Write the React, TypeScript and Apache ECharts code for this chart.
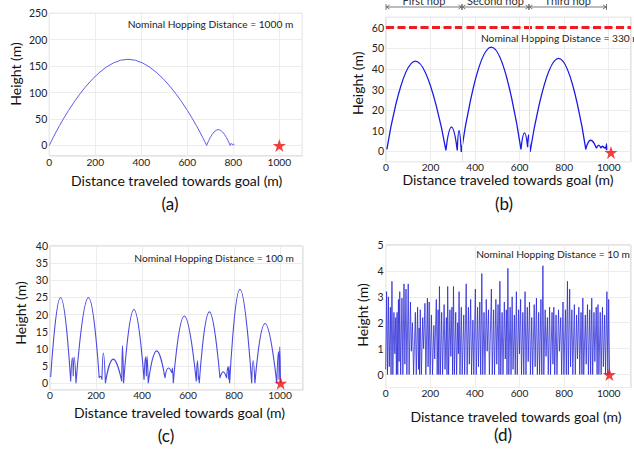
import React, { useEffect, useRef } from 'react';
import * as echarts from 'echarts';

const FONT = 'Lato, "Open Sans", sans-serif';

// ---------- data (metres) ----------
const X_MAX_LABEL = 1000;
const Y_RANGES = [[-20, 250], [-5, 65], [-2, 40], [-0.5, 5]];
const Y_STEPS = [50, 10, 5, 1];
const Y_SPLITS = [5, 7, 8, 5];

// hops: [x0, y0, xPeak, yPeak, x1, y1]
const A_HOPS = [
  [0, 0, 342, 163, 684, 0],
  [684, 0, 735, 30, 786, 0],
  [786, 0, 791, 4, 796, 0.5],
  [796, 0.5, 800, 3, 805, 0.5],
];
const B_HOPS = [
  [4, 1, 132, 43.8, 269, 0.5],
  [269, 0.5, 294, 11.8, 320, 0.5],
  [320, 0.5, 328, 10, 338, -0.3],
  [338, -0.3, 473, 50.5, 606, 1],
  [606, 1, 622, 9, 636, 2],
  [636, 2, 640, 8, 647, -0.3],
  [647, -0.3, 775, 45.1, 897, 1],
  [897, 1, 919, 5.4, 945, 1.5],
  [945, 1.5, 955, 3, 965, 1.5],
  [965, 1.5, 972, 2.5, 980, 1.5],
  [980, 1.5, 985, 2, 988, 1],
  [988, 1, 990, 3.7, 991, 0.5],
];
const C_HOPS = [
  [3, 1.8, 46, 25, 90, 0.5],
  [90, 0.5, 97, 7.4, 101, 2],
  [101, 2, 105, 7.6, 113, 0],
  [113, 0, 167, 25, 214, 1.5],
  [214, 1.5, 220, 2, 226, 1],
  [226, 1, 232, 8.8, 241, 0],
  [241, 0, 275, 7, 312, 0.5],
  [312, 0.5, 315, 11, 320, 0],
  [320, 0, 365, 21.5, 409, 1],
  [409, 1, 415, 7.6, 419, 2],
  [419, 2, 422, 7.8, 427, 0],
  [427, 0, 464, 9.4, 500, 1.5],
  [500, 1.5, 515, 4.4, 530, 3],
  [530, 3, 532, 4.4, 536, 0],
  [536, 0, 584, 19.6, 636, 0.5],
  [636, 0.5, 641, 6.5, 645, 1],
  [645, 1, 646, 2, 649, 0],
  [649, 0, 693, 20.8, 739, 1.5],
  [739, 1.5, 753, 3.3, 768, 1.5],
  [768, 1.5, 773, 4.7, 777, 1],
  [777, 1, 778, 5, 781, 0],
  [781, 0, 826, 27.4, 877, 0],
  [877, 0, 883, 6.5, 891, 0],
  [891, 0, 935, 17.4, 986, 0],
  [986, 0, 993, 9.2, 996, 1],
  [996, 1, 999, 10.6, 1002, 0],
];
// panel (d) vertices [x, height]
const D_PATH = [
  [0,0.2],[4,3.2],[8,0],[12,3.0],[16,0.3],[21,2.6],[24,0],[28,3.6],[32,0],[37,2.4],[41,0.8],[45,2.2],[48,0],[51,2.4],[54,0],[57,2.9],[60,0.5],[63,3.2],[67,0],[73,2.95],[77,0],[82,3.5],[86,0.4],[91,3.3],[95,0],[101,3.5],[105,0],[111,2.8],[115,0.9],[120,2.0],[125,0],[133,2.4],[137,0],[143,2.6],[147,0.2],[150,1.8],[152,0],[155,2.5],[160,0],[166,2.2],[170,1.0],[176,2.75],[180,0],[187,2.95],[190,0.3],[195,2.8],[199,0],[205,2.3],[210,0],[216,1.9],[220,0.6],[227,2.9],[231,0],[235,2.5],[238,0],[241,3.4],[245,0],[251,2.4],[255,0],[262,2.7],[266,0.2],[272,2.2],[275,0],[278,3.4],[282,0],[288,2.5],[292,0.7],[297,2.6],[300,0],[304,3.4],[308,0],[314,2.4],[318,0],[323,2.0],[326,0.8],[329,3.2],[333,0],[339,2.6],[343,0],[350,2.3],[354,0],[361,3.5],[365,0],[371,2.6],[375,0.4],[381,2.9],[385,0],[391,2.1],[395,0],[402,3.3],[406,0],[412,2.6],[416,0.3],[422,2.8],[426,0],[431,3.9],[435,0],[441,2.4],[445,0],[451,2.9],[455,0.9],[461,2.5],[465,0],[474,3.3],[478,0],[484,2.5],[488,0],[494,2.9],[498,0.4],[504,2.7],[508,0],[512,3.6],[516,0],[522,2.4],[526,0],[532,2.8],[536,0.6],[541,2.5],[544,0],[548,4.1],[552,0],[558,2.6],[562,0],[567,3.0],[571,0.2],[577,2.3],[581,0],[586,3.2],[590,0],[596,2.5],[600,0.8],[605,2.9],[609,0],[615,2.4],[619,0],[625,3.2],[629,0],[635,2.6],[639,0.5],[645,2.8],[649,0],[655,2.2],[659,0],[666,2.7],[670,0.3],[676,2.95],[680,0],[686,2.4],[690,0],[696,2.9],[700,0],[705,4.2],[709,0],[715,2.5],[719,0.7],[725,2.2],[729,0],[735,2.6],[739,0],[746,2.4],[750,0.4],[754,2.6],[758,0],[764,2.3],[768,0],[775,2.5],[779,0.9],[785,2.2],[789,0],[795,2.8],[799,0],[806,2.5],[810,0],[815,3.6],[819,0],[825,3.3],[829,0.3],[835,2.5],[839,0],[846,2.7],[850,0],[856,2.3],[860,0.6],[866,2.6],[870,0],[876,2.4],[880,0],[884,2.95],[888,0],[895,2.3],[899,0.4],[905,2.7],[909,0],[915,2.5],[919,0],[924,2.95],[928,0],[934,2.4],[938,0.5],[944,2.6],[948,0],[952,2.7],[956,0],[962,2.4],[966,0],[972,2.6],[976,0.3],[982,2.3],[986,0],[992,3.2],[996,0],[1000,2.9],[1004,0]
];
const GOALS = [[1000, 0], [1010, -0.5], [1003, 0], [1003, 0]];
const B_LIMIT = 60;
const B_HOP_BOUNDS = [0, 341, 642, 990];
const B_HOP_NAMES = ['First hop', 'Second hop', 'Third hop'];
const NOMINAL = [
  'Nominal Hopping Distance = 1000 m',
  'Nominal Hopping Distance = 330 m',
  'Nominal Hopping Distance = 100 m',
  'Nominal Hopping Distance = 10 m',
];
const PANEL_LABELS = ['(a)', '(b)', '(c)', '(d)'];
const X_TITLE = 'Distance traveled towards goal (m)';
const Y_TITLE = 'Height (m)';

// ---------- layout ----------
const GRIDS = [
  { left: 49.3, top: 13.3, width: 253, height: 142.7 },
  { left: 386, top: 17.3, width: 249.3, height: 144.4 },
  { left: 50, top: 246, width: 253, height: 144 },
  { left: 385.7, top: 245, width: 252.2, height: 142.5 },
];
const X_TITLE_POS = [[176.7, 180], [508, 179.5], [179.5, 412.5], [516, 416]];
const Y_TITLE_POS = [[15, 74], [357.3, 83.3], [20.7, 313], [362.3, 315]];
const NOMINAL_POS = [[293.3, 24, 'right'], [481, 38.3, 'left'], [294, 258.3, 'right'], [630, 254, 'right']];
const LABEL_POS = [[170, 203], [504, 203.5], [166, 435], [503, 434]];
const X_LABEL_MARGIN = [1, 0, 0, 0];
const LINE_STYLES = [
  { color: '#5c5ce8', width: 1 },
  { color: '#1a1ae6', width: 1.3 },
  { color: '#4a4ae0', width: 1.1 },
  { color: 'rgba(35,35,215,0.75)', width: 1 },
];

const STAR = 'path://M50,0 L61.8,35.1 L98.1,35.1 L68.8,56.7 L79.4,90.5 L50,69.1 L20.6,90.5 L31.2,56.7 L1.9,35.1 L38.2,35.1 Z';

function hopsToData(hops: number[][]) {
  const out: any[] = [];
  hops.forEach((h) => {
    out.push([h[0], h[1]], [h[2], h[3]], [h[4], h[5]], [h[4], '-']);
  });
  return out;
}

export default function App() {
  const ref = useRef<HTMLDivElement>(null);
  useEffect(() => {
    if (!ref.current) return;
    const chart = echarts.init(ref.current, undefined, { renderer: 'svg' });

    const xAxis = GRIDS.map((_, i) => ({
      type: 'value', gridIndex: i, min: 0, max: 1100, interval: 200,
      axisLine: { show: false }, axisTick: { show: false },
      axisLabel: {
        formatter: (v: number) => (v <= X_MAX_LABEL ? String(v) : ''),
        color: '#222', fontSize: 10.2, fontFamily: FONT, margin: X_LABEL_MARGIN[i], lineHeight: 10,
      },
      splitLine: { lineStyle: { color: '#ececec', width: 1 } },
    }));
    const yAxis = GRIDS.map((_, i) => ({
      type: 'value', gridIndex: i, min: Y_RANGES[i][0], max: Y_RANGES[i][1], splitNumber: Y_SPLITS[i],
      axisLine: { show: false }, axisTick: { show: false },
      axisLabel: {
        formatter: (v: number) => {
          const s = Y_STEPS[i];
          if (v < 0 || Math.abs(v / s - Math.round(v / s)) > 1e-6 || v > Y_RANGES[i][1]) return '';
          if (i === 1 && v > B_LIMIT) return '';
          return String(Math.round(v * 100) / 100);
        },
        color: '#222', fontSize: 10.5, fontFamily: FONT, margin: 2,
      },
      splitLine: { lineStyle: { color: '#ececec', width: 1 } },
    }));

    const datas = [hopsToData(A_HOPS), hopsToData(B_HOPS), hopsToData(C_HOPS), D_PATH];
    const series: any[] = datas.map((d, i) => ({
      type: 'line', xAxisIndex: i, yAxisIndex: i, data: d, showSymbol: false, symbol: 'none',
      smooth: i === 3 ? false : 0.5, lineStyle: LINE_STYLES[i], z: 3,
      markLine: i === 1 ? {
        silent: true, symbol: 'none', label: { show: false },
        data: [
          { yAxis: B_LIMIT, lineStyle: { color: '#ee1c25', width: 3, type: [8, 3.5] } },
          { xAxis: B_HOP_BOUNDS[1], lineStyle: { color: '#e0e0e0', width: 1, type: 'solid' } },
          { xAxis: B_HOP_BOUNDS[2], lineStyle: { color: '#e0e0e0', width: 1, type: 'solid' } },
        ],
      } : undefined,
    }));
    GOALS.forEach((g, i) => {
      series.push({
        type: 'scatter', xAxisIndex: i, yAxisIndex: i, data: [g], symbol: STAR, symbolSize: 13,
        itemStyle: { color: '#ee1111' }, z: 5, silent: true,
      });
    });

    chart.setOption({
      animation: false,
      grid: GRIDS.map((g) => ({ ...g, show: true, borderColor: '#c9c9c9', borderWidth: 1, containLabel: false })),
      xAxis, yAxis, series,
    });

    const graphic: any[] = [];
    const txt = (x: number, y: number, text: string, size: number, align: string, valign: string, rot = 0, color = '#111') => ({
      type: 'text', x, y, rotation: rot,
      style: { text, fontSize: size, fontFamily: FONT, fill: color, align, verticalAlign: valign, textAlign: align, textVerticalAlign: valign, lineHeight: Math.round(size * 1.0) },
      silent: true,
    });
    X_TITLE_POS.forEach((p) => graphic.push(txt(p[0], p[1], X_TITLE, 14, 'center', 'middle')));
    Y_TITLE_POS.forEach((p) => graphic.push(txt(p[0], p[1], Y_TITLE, 14, 'center', 'middle', Math.PI / 2)));
    NOMINAL_POS.forEach((p, i) => graphic.push(txt(p[0] as number, p[1] as number, NOMINAL[i], 10.2, p[2] as string, 'middle', 0, '#222')));
    LABEL_POS.forEach((p, i) => graphic.push(txt(p[0], p[1], PANEL_LABELS[i], 17, 'center', 'middle')));

    // hop arrows above panel (b)
    const arrowY = 70;
    for (let k = 0; k < B_HOP_NAMES.length; k++) {
      const p0 = chart.convertToPixel({ gridIndex: 1 }, [B_HOP_BOUNDS[k], arrowY]) as number[];
      const p1 = chart.convertToPixel({ gridIndex: 1 }, [B_HOP_BOUNDS[k + 1], arrowY]) as number[];
      const y = p0[1];
      const stroke = { stroke: '#555', lineWidth: 0.8 };
      graphic.push({ type: 'line', shape: { x1: p0[0] + 0.5, y1: y, x2: p1[0] - 0.5, y2: y }, style: stroke, silent: true });
      graphic.push({ type: 'polyline', shape: { points: [[p0[0] + 3.5, y - 2], [p0[0] + 0.5, y], [p0[0] + 3.5, y + 2]] }, style: { ...stroke, fill: 'none' }, silent: true });
      graphic.push({ type: 'polyline', shape: { points: [[p1[0] - 3.5, y - 2], [p1[0] - 0.5, y], [p1[0] - 3.5, y + 2]] }, style: { ...stroke, fill: 'none' }, silent: true });
      graphic.push({ type: 'line', shape: { x1: p0[0], y1: y - 3, x2: p0[0], y2: y + 3 }, style: stroke, silent: true });
      graphic.push({ type: 'line', shape: { x1: p1[0], y1: y - 3, x2: p1[0], y2: y + 3 }, style: stroke, silent: true });
      graphic.push(txt((p0[0] + p1[0]) / 2, y - 1, B_HOP_NAMES[k], 11, 'center', 'bottom', 0, '#333'));
    }
    chart.setOption({ graphic });

    return () => chart.dispose();
  }, []);
  return <div ref={ref} style={{ position: 'absolute', left: 0, top: 0, width: 634, height: 449, background: '#fff' }} />;
}
